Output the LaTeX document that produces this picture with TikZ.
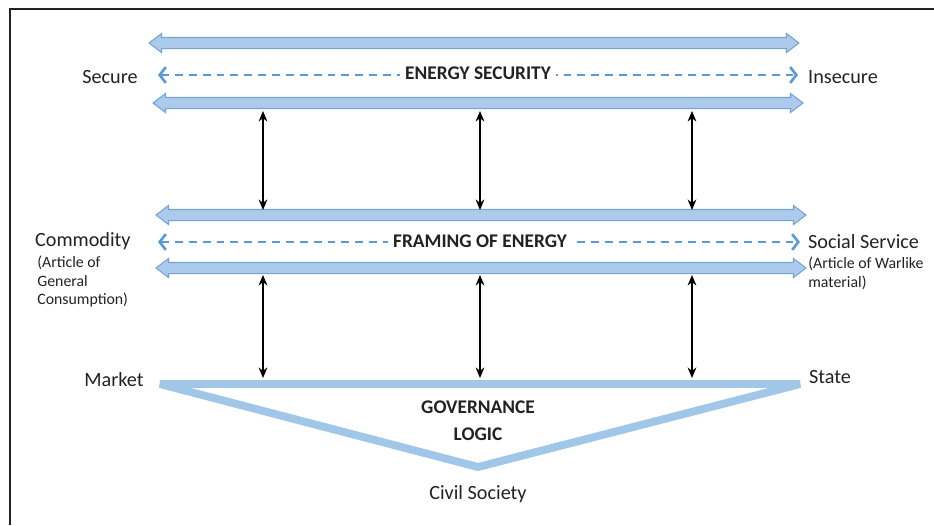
\documentclass[tikz,border=0pt]{standalone}
\usepackage{fontspec}
\setmainfont{Carlito}
\usetikzlibrary{arrows.meta,shapes.arrows}
\definecolor{fatfill}{RGB}{172,203,236}
\definecolor{fatline}{RGB}{118,163,214}
\definecolor{dashblue}{RGB}{91,155,213}
\definecolor{trilight}{RGB}{160,198,232}
\definecolor{txt}{RGB}{34,34,34}

\begin{document}
\begin{tikzpicture}[x=0.02cm,y=-0.02cm,
  fatarrow/.style={double arrow, draw=fatline, fill=fatfill, line width=0.6pt,
    inner xsep=0pt, inner ysep=0.1cm, minimum width=0pt, minimum height=13cm,
    double arrow head extend=0.08cm, double arrow tip angle=75},
  dasharrow/.style={dashblue, line width=1.5pt, dash pattern=on 4.5pt off 3.4pt,
    {Straight Barb[length=3.5pt,width=9pt]}-{Straight Barb[length=3.5pt,width=9pt]}},
  vertarrow/.style={black, line width=0.8pt, {Stealth[length=6pt,width=5pt]}-{Stealth[length=6pt,width=5pt]}},
  lbl/.style={text=txt, font=\fontsize{11.5}{13}\selectfont, inner sep=1pt},
  head/.style={text=txt, font=\bfseries\fontsize{11}{15.3}\selectfont, fill=white, inner sep=3pt, align=center},
  small/.style={text=txt, font=\fontsize{9}{10.4}\selectfont, inner sep=0pt, align=left}]
\useasboundingbox (0,0) rectangle (934,525);
% frame
\draw[line width=1.5pt, txt] (10,525) -- (10,9) -- (934,9);

% energy security band
\node[fatarrow] (ar1) at (474,43) {};
\node[fatarrow] (ar2) at (478,103) {};
\coordinate (sec1) at (158,75);
\coordinate (sec2) at (798,75);
\draw[dasharrow] (sec1) -- (sec2);
\node[head] (es) at (478,73) {ENERGY SECURITY};
\node[lbl] (secure) at (110,77) {Secure};
\node[lbl] (insecure) at (843,77) {Insecure};

% framing band
\node[fatarrow] (ar3) at (481,215) {};
\node[fatarrow] (ar4) at (481,268) {};
\coordinate (frm1) at (158,242);
\coordinate (frm2) at (800,242);
\draw[dasharrow] (frm1) -- (frm2);
\node[head] (fe) at (480,241) {FRAMING OF ENERGY};
\node[lbl, anchor=west] (comm) at (33,241) {Commodity};
\node[small, anchor=north west] (commsub) at (37,256) {(Article of\\General\\Consumption)};
\node[lbl, anchor=west] (social) at (806,242) {Social Service};
\node[small, anchor=north west] (socsub) at (808,257) {(Article of Warlike\\material)};

% vertical links
\coordinate (ua) at (263,111); \coordinate (ub) at (263,210);
\coordinate (va) at (480,111); \coordinate (vb) at (480,210);
\coordinate (wa) at (692,111); \coordinate (wb) at (692,210);
\draw[vertarrow] (ua) -- (ub);
\draw[vertarrow] (va) -- (vb);
\draw[vertarrow] (wa) -- (wb);
\coordinate (ub2) at (263,275); \coordinate (uc) at (263,378);
\coordinate (vb2) at (480,275); \coordinate (vc) at (480,378);
\coordinate (wb2) at (692,275); \coordinate (wc) at (692,378);
\draw[vertarrow] (ub2) -- (uc);
\draw[vertarrow] (vb2) -- (vc);
\draw[vertarrow] (wb2) -- (wc);

% governance triangle
\coordinate (mkt) at (160,384);
\coordinate (st) at (800,384);
\coordinate (civ) at (478,467);
\draw[trilight, line width=4.5pt, miter limit=2] (mkt) -- (st) -- (civ) -- cycle;
\node[lbl] (market) at (114,380) {Market};
\node[lbl] (state) at (830,377) {State};
\node[head, fill=none] (gov) at (478,421) {GOVERNANCE\\LOGIC};
\node[lbl] (civil) at (478,494) {Civil Society};
\end{tikzpicture}
\end{document}
